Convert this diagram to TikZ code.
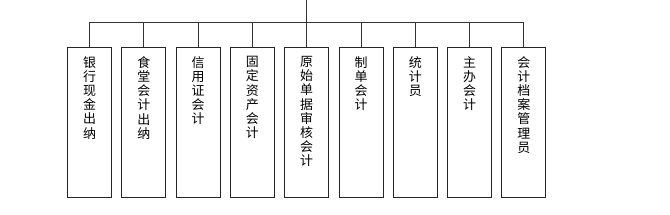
\documentclass[tikz,border=0pt]{standalone}
\usepackage{fontspec}
\newfontfamily\cjk{Noto Sans CJK SC}
\usetikzlibrary{positioning}

\begin{document}
\begin{tikzpicture}[
  x=1bp, y=1bp,
  post/.style={draw=black!85, line width=1pt, minimum width=44bp, minimum height=150bp, inner sep=0pt, outer sep=0pt, anchor=north west},
  duty/.style={font=\cjk\fontsize{13}{14.2}\selectfont, align=center, inner sep=0pt},
  wire/.style={draw=black!80, line width=0.9pt}
]
\useasboundingbox (0,0) rectangle (670,214);

\node[post] (b1) at (67.5,166.7) {};
\node[post, right=10.3bp of b1] (b2) {};
\node[post, right=10.3bp of b2] (b3) {};
\node[post, right=10.3bp of b3] (b4) {};
\node[post, right=10.3bp of b4] (b5) {};
\node[post, right=10.3bp of b5] (b6) {};
\node[post, right=10.3bp of b6] (b7) {};
\node[post, right=10.3bp of b7] (b8) {};
\node[post, right=10.3bp of b8] (b9) {};

\node[duty, below=9bp of b1.north] (t1) {银\\行\\现\\金\\出\\纳};
\node[duty, below=9bp of b2.north] (t2) {食\\堂\\会\\计\\出\\纳};
\node[duty, below=9bp of b3.north] (t3) {信\\用\\证\\会\\计};
\node[duty, below=9bp of b4.north] (t4) {固\\定\\资\\产\\会\\计};
\node[duty, below=9bp of b5.north] (t5) {原\\始\\单\\据\\审\\核\\会\\计};
\node[duty, below=9bp of b6.north] (t6) {制\\单\\会\\计};
\node[duty, below=9bp of b7.north] (t7) {统\\计\\员};
\node[duty, below=9bp of b8.north] (t8) {主\\办\\会\\计};
\node[duty, below=9bp of b9.north] (t9) {会\\计\\档\\案\\管\\理\\员};

% head line and bus
\coordinate (head) at (b5.north |- 0,214);
\coordinate (bus) at (0,191.7);
\draw[wire] (head) -- (b5.north);
\draw[wire] (b1.north) |- (bus -| b9.north) -- (b9.north);
\foreach \i in {2,3,4,6,7,8}
  \draw[wire] (b\i.north) -- (b\i.north |- bus);
\end{tikzpicture}
\end{document}
